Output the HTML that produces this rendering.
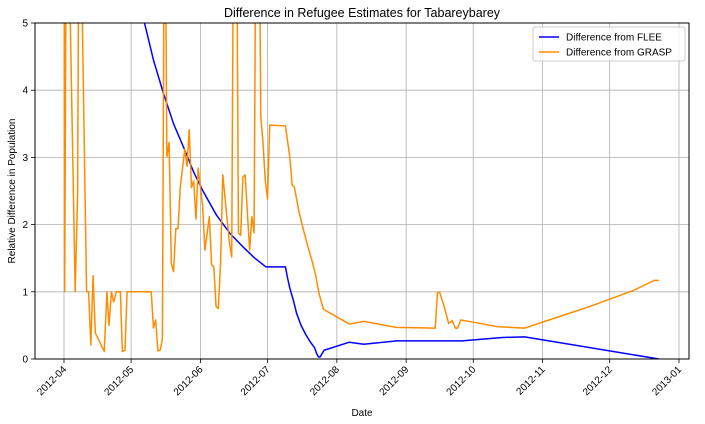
<!DOCTYPE html>
<html><head><meta charset="utf-8"><style>
body{margin:0;background:#fff}
svg{display:block;font-family:"Liberation Sans",sans-serif}
</style></head><body>
<svg id="chart" width="705" height="424">
<defs><clipPath id="clip"><rect x="35" y="23" width="654" height="336"/></clipPath></defs>
<rect x="0" y="0" width="705" height="424" fill="#fff"/>
<text x="362" y="17" text-anchor="middle" font-size="12.5">Difference in Refugee Estimates for Tabareybarey</text>
<g id="grid"></g><g id="xt"></g><g id="yt"></g>
<g clip-path="url(#clip)" id="series"></g>
<rect x="35" y="23" width="654" height="336" fill="none" stroke="#000" stroke-width="1"/>
<text x="362" y="416" text-anchor="middle" font-size="10">Date</text>
<text transform="translate(15,191) rotate(-90)" text-anchor="middle" font-size="10">Relative Difference in Population</text>
<g>
<rect x="533" y="27" width="152" height="34" fill="#fff" fill-opacity="0.8" stroke="#ccc" rx="2"/>
<g><line x1="539" y1="37" x2="559" y2="37" stroke="#0000ff" stroke-width="1.5"/><text x="566" y="40.5" font-size="10">Difference from FLEE</text></g>
<g><line x1="539" y1="52" x2="559" y2="52" stroke="#ff8c00" stroke-width="1.5"/><text x="566" y="55.5" font-size="10">Difference from GRASP</text></g>
</g>
</svg>
<script>
// days since 2012-04-01
const xTickLabels=["2012-04","2012-05","2012-06","2012-07","2012-08","2012-09","2012-10","2012-11","2012-12","2013-01"];
const xTickDays=[0,30,61,91,122,153,183,214,244,275];
const yTicks=[0,1,2,3,4,5];
const fleeDays=[30,36,40,44.4,49,54,58,62.3,68,74.2,80,85,90.3,99,100,101,102.5,104,106,108,110,112,113,113.8,114.5,116.3,127.6,134,148.8,178,196,206,266];
const fleeVals=[6.2,5.0,4.45,3.96,3.5,3.11,2.78,2.49,2.15,1.87,1.67,1.51,1.37,1.37,1.2,1.05,0.88,0.68,0.5,0.37,0.26,0.17,0.08,0.03,0.03,0.13,0.25,0.22,0.27,0.27,0.32,0.33,0.0];
const graspDays=[0,0.3,1.2,5,6.1,6.8,10.1,11,12,13,14,18,19.2,20.1,21.2,22.2,23.4,25.2,26.1,27.3,28.2,39,40,41,42,43,44,45,46,47,48,49,50,51,52,54,55,56,57,58,59,60,62,63,65,66,67,68,69,70,71,74,75,76,77,78,79,80,81,83,84,85,86,87,88,89,90,91,92,99,101,102,103,105,107,109,111,112.5,114,116,127.6,134,148.5,166,167,168,170,172,173.6,175,176,177.4,179.4,194,206,215,225,235,244,254.6,264,266];
const graspVals=[8,1,8,1,2.47,8,1,1,0.21,1.24,0.39,0.11,1,0.5,1,0.85,1,1,0.11,0.13,1,1,0.46,0.58,0.12,0.13,0.3,8,3.01,3.22,1.42,1.3,1.94,1.94,2.56,3.12,2.87,3.41,2.55,2.65,2.08,2.84,2.27,1.62,2.12,1.4,1.37,0.78,0.75,1.42,2.74,1.72,1.52,8,8,1.87,1.84,2.71,2.74,1.62,2.12,1.88,8,8,3.6,3.21,2.66,2.38,3.48,3.47,3.0,2.59,2.56,2.2,1.93,1.68,1.45,1.25,0.98,0.74,0.52,0.56,0.47,0.46,0.99,0.99,0.78,0.53,0.57,0.46,0.46,0.58,0.57,0.48,0.46,0.56,0.67,0.78,0.89,1.02,1.17,1.17];
const NS="http://www.w3.org/2000/svg";
const X=d=>64+d*2.2364, Y=v=>359-v*67.2;
const grid=document.getElementById('grid'),xt=document.getElementById('xt'),yt=document.getElementById('yt'),ser=document.getElementById('series');
function mk(t,a,p){const e=document.createElementNS(NS,t);for(const k in a)e.setAttribute(k,a[k]);p.appendChild(e);return e;}
xTickDays.forEach((d,i)=>{const x=X(d);
 const g=mk('line',{x1:x,y1:23,x2:x,y2:359,stroke:'#b0b0b0','stroke-width':0.8},grid);
 
 
 mk('line',{x1:x,y1:359,x2:x,y2:363,stroke:'#000','stroke-width':0.8},xt);
 const t=mk('text',{x:x+3,y:370,'font-size':10,'text-anchor':'end',transform:`rotate(-45 ${x+3} 370)`},xt);
 t.textContent=xTickLabels[i];
 
 
});
yTicks.forEach(v=>{const y=Y(v);
 const g=mk('line',{x1:35,y1:y,x2:689,y2:y,stroke:'#b0b0b0','stroke-width':0.8},grid);
 
 
 mk('line',{x1:31,y1:y,x2:35,y2:y,stroke:'#000','stroke-width':0.8},yt);
 const t=mk('text',{x:28,y:y+3.5,'font-size':10,'text-anchor':'end'},yt);
 t.textContent=v;
 
 
});
function line(ds,vs,c,name){const p=mk('polyline',{points:ds.map((d,i)=>X(d)+','+Y(vs[i])).join(' '),fill:'none',stroke:c,'stroke-width':1.5,'stroke-linejoin':'round'},ser);
 
 }
line(fleeDays,fleeVals,'#0000ff','flee-difference-line');
line(graspDays,graspVals,'#ff8c00','grasp-difference-line');
</script>
</body></html>
